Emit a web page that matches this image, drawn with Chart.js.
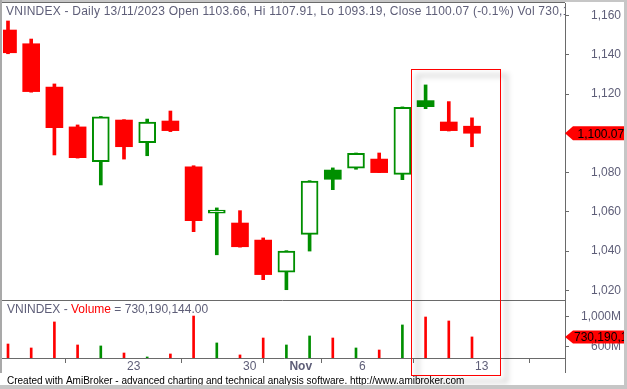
<!DOCTYPE html>
<html>
<head>
<meta charset="utf-8">
<script src="https://cdn.jsdelivr.net/npm/chart.js@4.4.0/dist/chart.umd.min.js"></script>
<style>
  html, body { margin: 0; padding: 0; background: #fff; }
  #wrap { position: relative; width: 627px; height: 389px; overflow: hidden; }
  #c { position: absolute; left: 0; top: 0; }
  .f { position: absolute; background: #c6c6c6; }
</style>
</head>
<body>
<div id="wrap">
  <canvas id="c" width="627" height="389"></canvas>
  <div class="f" style="left:0;top:0;width:627px;height:2px"></div>
  <div class="f" style="left:0;top:0;width:2px;height:373px;background:#a9a9a9"></div>
  <div class="f" style="left:624px;top:0;width:3px;height:389px"></div>
  <div class="f" style="left:0;top:385px;width:627px;height:4px"></div>
</div>
<script>
// trading days 16/10/2023 .. 13/11/2023
const days = ['16/10','17/10','18/10','19/10','20/10','23/10','24/10','25/10','26/10','27/10',
              '30/10','31/10','01/11','02/11','03/11','06/11','07/11','08/11','09/11','10/11','13/11'];
const opens  = [1152.7, 1145.7, 1123.6, 1103.3, 1085.6, 1106.8, 1095.3, 1106.3, 1082.9, 1059.3,
                1054.3, 1045.6, 1029.2, 1048.5, 1081.3, 1082.2, 1086.9, 1079.1, 1116.7, 1105.8, 1103.66];
const highs  = [1157.3, 1148.1, 1125.2, 1104.3, 1108.6, 1107.0, 1107.3, 1111.4, 1083.5, 1062.0,
                1060.6, 1046.7, 1040.2, 1075.9, 1082.4, 1090.0, 1090.0, 1113.5, 1124.7, 1116.2, 1107.91];
const lows   = [1140.6, 1121.0, 1089.0, 1087.4, 1073.7, 1086.9, 1088.6, 1100.9, 1049.9, 1038.1,
                1042.0, 1025.4, 1020.3, 1040.0, 1071.3, 1081.7, 1080.0, 1076.4, 1112.6, 1101.2, 1093.19];
const closes = [1141.1, 1121.3, 1102.9, 1087.6, 1108.4, 1093.2, 1105.7, 1101.4, 1055.5, 1060.9,
                1042.2, 1028.0, 1040.0, 1075.7, 1076.6, 1089.8, 1080.0, 1113.3, 1113.6, 1101.4, 1100.07];
// volume, millions of shares
const volumeM = [636, 583, 930, 623, 610, 516, 463, 503, 1009, 650,
                 490, 716, 623, 743, 716, 583, 556, 890, 996, 943, 730.19];

const tickDays   = [5, 10, 12, 15, 20];
const tickLabels = ['23', '30', 'Nov', '6', '13'];
const priceTicks  = [1020, 1040, 1060, 1080, 1100, 1120, 1140, 1160];
const volumeTicks = [600, 800, 1000];

const RED = '#ff0000', GREEN = '#008f00', GREY = '#5e5e78', LINE = '#6a6a6a';

// candle colour: close vs previous close; filled when close < open
const candleCol = closes.map((c, i) => (i === 0 ? c >= opens[i] : c >= closes[i - 1]) ? GREEN : RED);
const filled = closes.map((c, i) => c < opens[i]);
const volCol = closes.map((c, i) => c >= opens[i] ? GREEN : RED);

// highlighted range
const boxFrom = 17.38, boxTo = 21.22, boxTop = 1132.7;

Chart.defaults.font.family = '"Liberation Sans", Arial, sans-serif';
Chart.defaults.font.size = 12;

function tag(ctx, left, yc, h, text, tx) {
  ctx.fillStyle = RED;
  ctx.beginPath();
  ctx.moveTo(left, yc);
  ctx.lineTo(left + 8, yc - h / 2);
  ctx.lineTo(627, yc - h / 2);
  ctx.lineTo(627, yc + h / 2);
  ctx.lineTo(left + 8, yc + h / 2);
  ctx.closePath();
  ctx.fill();
  ctx.fillStyle = '#000';
  ctx.textAlign = 'left';
  ctx.textBaseline = 'middle';
  ctx.fillText(text, left + tx, yc + 1);
}

const noPad = s => { s.width = 56; s.paddingTop = 0; s.paddingBottom = 0; };

const overlay = {
  id: 'overlay',
  afterDraw(chart) {
    const {ctx, chartArea: a, scales: {x, y, yv}} = chart;
    ctx.save();
    ctx.strokeStyle = LINE;
    ctx.lineWidth = 1;
    ctx.beginPath();
    ctx.moveTo(0, a.top - 0.5); ctx.lineTo(a.right, a.top - 0.5);
    ctx.moveTo(0, Math.round(yv.top) + 0.5); ctx.lineTo(a.right, Math.round(yv.top) + 0.5);
    ctx.moveTo(0, a.bottom + 0.5); ctx.lineTo(a.left + 1, a.bottom + 0.5);
    ctx.moveTo(a.right + 0.5, a.bottom); ctx.lineTo(a.right + 0.5, a.bottom + 15);
    ctx.stroke();

    // pane titles, clipped to the plot
    ctx.save();
    ctx.beginPath();
    ctx.rect(a.left, a.top, a.right - a.left, a.bottom - a.top);
    ctx.clip();
    ctx.font = '12px "Liberation Sans", Arial, sans-serif';
    ctx.textBaseline = 'alphabetic';
    ctx.textAlign = 'left';
    ctx.fillStyle = GREY;
    ctx.letterSpacing = '0.23px';
    ctx.fillText('VNINDEX - Daily 13/11/2023 Open 1103.66, Hi 1107.91, Lo 1093.19, Close 1100.07 (-0.1%) Vol 730,190,144', 6, 15);
    ctx.letterSpacing = '0px';
    let tx = 7;
    const parts = [['VNINDEX - ', GREY], ['Volume', RED], [' = 730,190,144.00', GREY]];
    parts.forEach(([t, c]) => {
      ctx.fillStyle = c;
      ctx.fillText(t, tx, 313);
      tx += ctx.measureText(t).width;
    });
    ctx.restore();

    // last value tags
    ctx.font = '12px "Liberation Sans", Arial, sans-serif';
    tag(ctx, a.right, y.getPixelForValue(closes[closes.length - 1]), 14, '1,100.07', 12.5);
    tag(ctx, a.right, yv.getPixelForValue(volumeM[volumeM.length - 1]), 13, '730,190,144', 9);

    // highlight box with soft shadow
    const x1 = Math.round(x.getPixelForValue(boxFrom)) + 0.5;
    const x2 = Math.round(x.getPixelForValue(boxTo)) + 0.5;
    const y1 = Math.round(y.getPixelForValue(boxTop)) + 0.5;
    const y2 = a.bottom + 17.5;
    ctx.save();
    ctx.filter = 'blur(2.5px)';
    ctx.strokeStyle = 'rgba(0,0,0,0.13)';
    ctx.lineWidth = 4;
    ctx.strokeRect(x1 + 6, y1 + 6, x2 - x1, y2 - y1);
    ctx.restore();
    ctx.strokeStyle = RED;
    ctx.lineWidth = 1;
    ctx.strokeRect(x1, y1, x2 - x1, y2 - y1);

    // footer
    ctx.fillStyle = '#000';
    ctx.font = '10px "Liberation Sans", Arial, sans-serif';
    ctx.textBaseline = 'alphabetic';
    ctx.fillText('Created with AmiBroker - advanced charting and technical analysis software. http://www.amibroker.com', 7, 384);
    ctx.restore();
  }
};

new Chart(document.getElementById('c'), {
  type: 'bar',
  data: {
    datasets: [
      {
        label: 'body',
        order: 0,
        grouped: false,
        yAxisID: 'y',
        data: days.map((d, i) => ({x: i, y: [opens[i], closes[i]]})),
        backgroundColor: days.map((d, i) => filled[i] ? candleCol[i] : '#ffffff'),
        borderColor: candleCol,
        borderWidth: days.map((d, i) => filled[i] ? 0 : 2),
        borderSkipped: false,
        barThickness: 17
      },
      {
        label: 'wick',
        order: 1,
        grouped: false,
        yAxisID: 'y',
        data: days.map((d, i) => ({x: i, y: [lows[i], highs[i]]})),
        backgroundColor: candleCol,
        barThickness: 3
      },
      {
        label: 'Volume',
        order: 2,
        grouped: false,
        yAxisID: 'yv',
        data: days.map((d, i) => ({x: i, y: volumeM[i]})),
        backgroundColor: volCol,
        barThickness: 2
      }
    ]
  },
  options: {
    responsive: false,
    animation: false,
    layout: { padding: { left: 3, top: 3, right: 6, bottom: 0 } },
    plugins: { legend: { display: false }, tooltip: { enabled: false } },
    scales: {
      x: {
        type: 'linear',
        position: 'bottom',
        offset: false,
        min: -0.2155,
        max: 24.009,
        afterFit: s => { s.height = 31; s.paddingLeft = 0; s.paddingRight = 0; },
        afterBuildTicks: s => { s.ticks = tickDays.map(v => ({value: v})); },
        ticks: {
          autoSkip: false,
          maxRotation: 0,
          align: 'start',
          labelOffset: 3,
          padding: -4,
          color: GREY,
          font: c => ({weight: c.tick && c.tick.value === 12 ? 'bold' : 'normal'}),
          callback: v => tickLabels[tickDays.indexOf(v)]
        },
        grid: { drawOnChartArea: false, drawTicks: true, tickLength: 5, tickColor: LINE },
        border: { display: true, color: LINE, width: 1 }
      },
      y: {
        position: 'right',
        stack: 'panes',
        stackWeight: 297,
        weight: 0,
        min: 1015.05,
        max: 1166.47,
        afterFit: noPad,
        afterBuildTicks: s => { s.ticks = priceTicks.map(v => ({value: v})); },
        ticks: { crossAlign: 'far', padding: 0, color: GREY, callback: v => v.toLocaleString('en-US') },
        grid: { drawOnChartArea: false, tickLength: 4, tickColor: LINE },
        border: { color: LINE, width: 1 }
      },
      yv: {
        position: 'right',
        stack: 'panes',
        stackWeight: 58,
        weight: 1,
        min: 449.3,
        max: 1222.7,
        afterFit: noPad,
        afterBuildTicks: s => { s.ticks = volumeTicks.map(v => ({value: v})); },
        ticks: { crossAlign: 'far', padding: 0, color: GREY, callback: v => v.toLocaleString('en-US') + 'M' },
        grid: { drawOnChartArea: false, tickLength: 4, tickColor: LINE },
        border: { color: LINE, width: 1 }
      }
    }
  },
  plugins: [overlay]
});
</script>
</body>
</html>
